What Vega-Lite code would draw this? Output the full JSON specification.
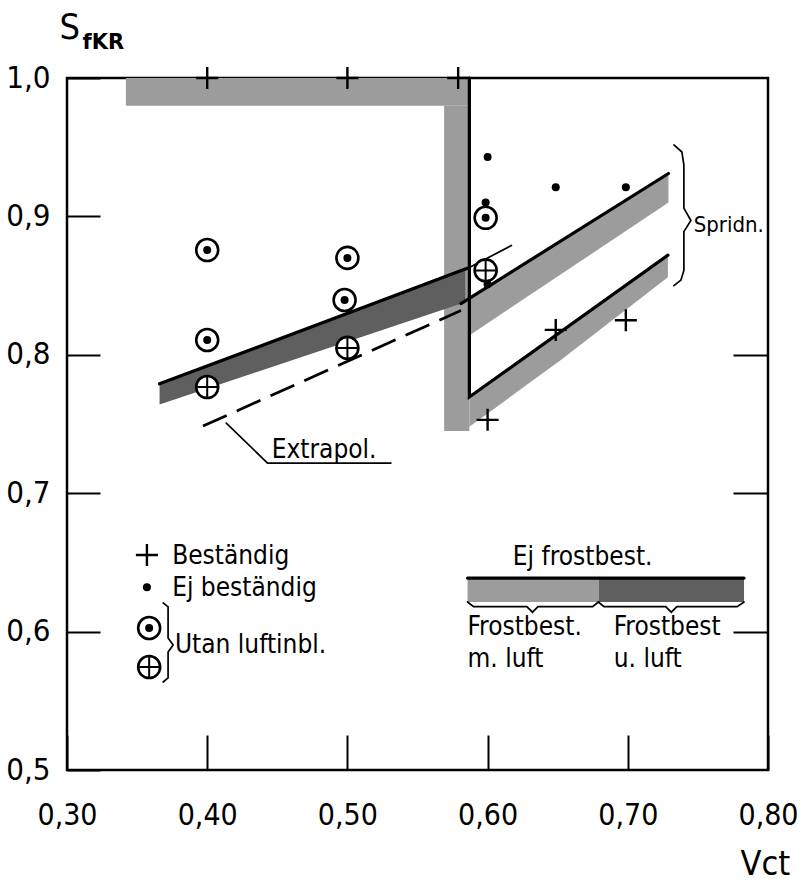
{
  "$schema": "https://vega.github.io/schema/vega-lite/v6.json",
  "width": 701,
  "height": 692,
  "autosize": {"type": "none"},
  "padding": {"left": 67, "top": 78, "right": 38, "bottom": 113},
  "background": "white",
  "config": {
    "view": {"stroke": "black", "strokeWidth": 2.5},
    "axis": {"grid": false, "domain": false, "labelFlush": false, "labelOverlap": false}
  },
  "datasets": {
    "blocks": [
      {"fill": "hatch", "vct": 0.342, "vct2": 0.587, "s": 0.98, "s2": 1.0},
      {"fill": "hatch", "vct": 0.569, "vct2": 0.587, "s": 0.745, "s2": 0.98},
      {"fill": "hatch", "vct": 0.5857, "vct2": 0.6793, "s": 0.6214, "s2": 0.6387},
      {"fill": "cross", "vct": 0.6793, "vct2": 0.7829, "s": 0.6214, "s2": 0.6387}
    ],
    "bands": [
      {"band": "upper", "fill": "hatch", "vct": 0.584, "s": 0.839, "s2": 0.812},
      {"band": "upper", "fill": "hatch", "vct": 0.729, "s": 0.931, "s2": 0.91},
      {"band": "lower", "fill": "hatch", "vct": 0.587, "s": 0.7695, "s2": 0.748},
      {"band": "lower", "fill": "hatch", "vct": 0.652, "s": 0.817, "s2": 0.796},
      {"band": "lower", "fill": "hatch", "vct": 0.7286, "s": 0.872, "s2": 0.856},
      {"band": "cross", "fill": "cross", "vct": 0.366, "s": 0.779, "s2": 0.764},
      {"band": "cross", "fill": "cross", "vct": 0.584, "s": 0.863, "s2": 0.838}
    ],
    "lines": [
      {"id": "cross_top", "ord": 1, "vct": 0.366, "s": 0.779},
      {"id": "cross_top", "ord": 2, "vct": 0.587, "s": 0.863},
      {"id": "cross_ext", "ord": 1, "vct": 0.587, "s": 0.863},
      {"id": "cross_ext", "ord": 2, "vct": 0.617, "s": 0.879},
      {"id": "vert", "ord": 1, "vct": 0.587, "s": 1.0},
      {"id": "vert", "ord": 2, "vct": 0.587, "s": 0.7695},
      {"id": "vert", "ord": 3, "vct": 0.7286, "s": 0.872},
      {"id": "upper", "ord": 1, "vct": 0.581, "s": 0.837},
      {"id": "upper", "ord": 2, "vct": 0.729, "s": 0.931},
      {"id": "extrap", "ord": 1, "vct": 0.397, "s": 0.7485},
      {"id": "extrap", "ord": 2, "vct": 0.581, "s": 0.832},
      {"id": "leader", "ord": 1, "vct": 0.4136, "s": 0.7507},
      {"id": "leader", "ord": 2, "vct": 0.443, "s": 0.7218},
      {"id": "leader", "ord": 3, "vct": 0.531, "s": 0.7218},
      {"id": "legend_ej", "ord": 1, "vct": 0.5857, "s": 0.6387},
      {"id": "legend_ej", "ord": 2, "vct": 0.7829, "s": 0.6387},
      {"id": "brace_spridn", "ord": 1, "vct": 0.7329, "s": 0.9516},
      {"id": "brace_spridn", "ord": 2, "vct": 0.7386, "s": 0.9465},
      {"id": "brace_spridn", "ord": 3, "vct": 0.74, "s": 0.9371},
      {"id": "brace_spridn", "ord": 4, "vct": 0.74, "s": 0.906},
      {"id": "brace_spridn", "ord": 5, "vct": 0.745, "s": 0.897},
      {"id": "brace_spridn", "ord": 6, "vct": 0.74, "s": 0.889},
      {"id": "brace_spridn", "ord": 7, "vct": 0.74, "s": 0.861},
      {"id": "brace_spridn", "ord": 8, "vct": 0.7379, "s": 0.854},
      {"id": "brace_spridn", "ord": 9, "vct": 0.7329, "s": 0.85},
      {"id": "brace_utan", "ord": 1, "vct": 0.3686, "s": 0.6207},
      {"id": "brace_utan", "ord": 2, "vct": 0.3721, "s": 0.6178},
      {"id": "brace_utan", "ord": 3, "vct": 0.3721, "s": 0.5954},
      {"id": "brace_utan", "ord": 4, "vct": 0.3757, "s": 0.5903},
      {"id": "brace_utan", "ord": 5, "vct": 0.3721, "s": 0.5853},
      {"id": "brace_utan", "ord": 6, "vct": 0.3721, "s": 0.5665},
      {"id": "brace_utan", "ord": 7, "vct": 0.3686, "s": 0.5636},
      {"id": "brace_m", "ord": 1, "vct": 0.5857, "s": 0.6214},
      {"id": "brace_m", "ord": 2, "vct": 0.59, "s": 0.618},
      {"id": "brace_m", "ord": 3, "vct": 0.628, "s": 0.618},
      {"id": "brace_m", "ord": 4, "vct": 0.632, "s": 0.614},
      {"id": "brace_m", "ord": 5, "vct": 0.636, "s": 0.618},
      {"id": "brace_m", "ord": 6, "vct": 0.675, "s": 0.618},
      {"id": "brace_m", "ord": 7, "vct": 0.679, "s": 0.6214},
      {"id": "brace_u", "ord": 1, "vct": 0.679, "s": 0.6214},
      {"id": "brace_u", "ord": 2, "vct": 0.683, "s": 0.618},
      {"id": "brace_u", "ord": 3, "vct": 0.727, "s": 0.618},
      {"id": "brace_u", "ord": 4, "vct": 0.731, "s": 0.614},
      {"id": "brace_u", "ord": 5, "vct": 0.735, "s": 0.618},
      {"id": "brace_u", "ord": 6, "vct": 0.778, "s": 0.618},
      {"id": "brace_u", "ord": 7, "vct": 0.7829, "s": 0.6214}
    ],
    "points": [
      {"kind": "plus", "vct": 0.40, "s": 1.0},
      {"kind": "plus", "vct": 0.50, "s": 1.0},
      {"kind": "plus", "vct": 0.579, "s": 1.0},
      {"kind": "plus", "vct": 0.60, "s": 0.753},
      {"kind": "plus", "vct": 0.6486, "s": 0.818},
      {"kind": "plus", "vct": 0.6986, "s": 0.825},
      {"kind": "dot", "vct": 0.60, "s": 0.943},
      {"kind": "dot", "vct": 0.6486, "s": 0.921},
      {"kind": "dot", "vct": 0.6986, "s": 0.921},
      {"kind": "dot", "vct": 0.5986, "s": 0.91},
      {"kind": "dot", "vct": 0.60, "s": 0.851},
      {"kind": "ringdot", "vct": 0.40, "s": 0.8757},
      {"kind": "ringdot", "vct": 0.50, "s": 0.870},
      {"kind": "ringdot", "vct": 0.498, "s": 0.8396},
      {"kind": "ringdot", "vct": 0.40, "s": 0.8107},
      {"kind": "ringdot", "vct": 0.5986, "s": 0.899},
      {"kind": "ringplus", "vct": 0.40, "s": 0.7767},
      {"kind": "ringplus", "vct": 0.50, "s": 0.805},
      {"kind": "ringplus", "vct": 0.5986, "s": 0.861},
      {"kind": "plus", "vct": 0.357, "s": 0.6553},
      {"kind": "dot", "vct": 0.357, "s": 0.632},
      {"kind": "ringdot", "vct": 0.3586, "s": 0.6026},
      {"kind": "ringplus", "vct": 0.3586, "s": 0.5744}
    ],
    "texts": [
      {"style": "big", "vct": 0.446, "s": 0.7254, "text": "Extrapol."},
      {"style": "small", "vct": 0.747, "s": 0.889, "text": "Spridn."},
      {"style": "big", "vct": 0.375, "s": 0.6485, "text": "Beständig"},
      {"style": "big", "vct": 0.375, "s": 0.6255, "text": "Ej beständig"},
      {"style": "big", "vct": 0.377, "s": 0.5845, "text": "Utan luftinbl."},
      {"style": "big", "vct": 0.618, "s": 0.648, "text": "Ej frostbest."},
      {"style": "big", "vct": 0.5857, "s": 0.5975, "text": "Frostbest."},
      {"style": "big", "vct": 0.5857, "s": 0.5744, "text": "m. luft"},
      {"style": "big", "vct": 0.69, "s": 0.5975, "text": "Frostbest"},
      {"style": "big", "vct": 0.69, "s": 0.5744, "text": "u. luft"}
    ]
  },
  "resolve": {"axis": {"y": "independent"}},
  "layer": [
    {
      "data": {"name": "blocks"},
      "mark": {"type": "rect"},
      "encoding": {
        "x": {"field": "vct", "type": "quantitative", "scale": {"domain": [0.3, 0.8], "nice": false, "zero": false},
          "axis": {"values": [0.3, 0.4, 0.5, 0.6, 0.7, 0.8], "tickSize": -35, "tickWidth": 2, "tickColor": "black",
            "labelPadding": 65, "labelBaseline": "top", "labelFont": "DejaVu Sans Condensed, sans-serif",
            "labelFontSize": 30, "labelColor": "black", "labelExpr": "replace(format(datum.value,'.2f'),'.',',')",
            "title": "Vct", "titleX": 673, "titleY": 104, "titleAlign": "left", "titleBaseline": "alphabetic",
            "titleFont": "DejaVu Sans Condensed, sans-serif", "titleFontSize": 34, "titleFontWeight": "normal", "titleColor": "black"}},
        "x2": {"field": "vct2"},
        "y": {"field": "s", "type": "quantitative", "scale": {"domain": [0.5, 1.0], "nice": false, "zero": false},
          "axis": {"orient": "left", "values": [0.5, 0.6, 0.7, 0.8, 0.9, 1.0], "tickSize": -33, "tickWidth": 2, "tickColor": "black",
            "labelPadding": 50, "labelAlign": "right", "labelBaseline": "middle",
            "labelFont": "DejaVu Sans Condensed, sans-serif", "labelFontSize": 31, "labelColor": "black",
            "labelExpr": "replace(format(datum.value,'.1f'),'.',',')",
            "title": "S", "titleAngle": 0, "titleAlign": "left", "titleBaseline": "alphabetic", "titleX": -8, "titleY": -40,
            "titleFont": "DejaVu Sans Condensed, sans-serif", "titleFontSize": 36, "titleFontWeight": "normal", "titleColor": "black"}},
        "y2": {"field": "s2"},
        "color": {"field": "fill", "type": "nominal", "scale": {"domain": ["hatch", "cross"], "range": ["#9c9c9c", "#5f5f5f"]}, "legend": null}
      }
    },
    {
      "data": {"name": "bands"},
      "mark": {"type": "area"},
      "encoding": {
        "x": {"field": "vct", "type": "quantitative", "scale": {"domain": [0.3, 0.8], "nice": false, "zero": false}},
        "y": {"field": "s", "type": "quantitative", "scale": {"domain": [0.5, 1.0], "nice": false, "zero": false},
          "axis": {"orient": "right", "values": [0.6, 0.7, 0.8], "tickSize": -35, "tickWidth": 2, "tickColor": "black", "labels": false,
            "title": "fKR", "titleAngle": 0, "titleAlign": "left", "titleBaseline": "alphabetic", "titleX": -686, "titleY": -30,
            "titleFont": "DejaVu Sans", "titleFontSize": 21, "titleFontWeight": "bold", "titleColor": "black"}},
        "y2": {"field": "s2"},
        "detail": {"field": "band"},
        "color": {"field": "fill", "type": "nominal", "scale": {"domain": ["hatch", "cross"], "range": ["#9c9c9c", "#5f5f5f"]}, "legend": null}
      }
    },
    {
      "data": {"name": "lines"},
      "transform": [{"filter": {"field": "id", "oneOf": ["cross_top", "vert", "upper", "legend_ej"]}}],
      "mark": {"type": "line", "color": "black", "strokeWidth": 3.2, "strokeCap": "round", "strokeJoin": "miter"},
      "encoding": {
        "x": {"field": "vct", "type": "quantitative", "scale": {"domain": [0.3, 0.8], "nice": false, "zero": false}},
        "y": {"field": "s", "type": "quantitative", "scale": {"domain": [0.5, 1.0], "nice": false, "zero": false}, "axis": null},
        "detail": {"field": "id"},
        "order": {"field": "ord"}
      }
    },
    {
      "data": {"name": "lines"},
      "transform": [{"filter": {"field": "id", "oneOf": ["cross_ext", "leader", "brace_spridn", "brace_utan", "brace_m", "brace_u"]}}],
      "mark": {"type": "line", "color": "black", "strokeWidth": 1.7, "strokeCap": "round", "interpolate": "linear"},
      "encoding": {
        "x": {"field": "vct", "type": "quantitative", "scale": {"domain": [0.3, 0.8], "nice": false, "zero": false}},
        "y": {"field": "s", "type": "quantitative", "scale": {"domain": [0.5, 1.0], "nice": false, "zero": false}, "axis": null},
        "detail": {"field": "id"},
        "order": {"field": "ord"}
      }
    },
    {
      "data": {"name": "lines"},
      "transform": [{"filter": {"field": "id", "equal": "extrap"}}],
      "mark": {"type": "line", "color": "black", "strokeWidth": 2.8, "strokeDash": [26, 11]},
      "encoding": {
        "x": {"field": "vct", "type": "quantitative", "scale": {"domain": [0.3, 0.8], "nice": false, "zero": false}},
        "y": {"field": "s", "type": "quantitative", "scale": {"domain": [0.5, 1.0], "nice": false, "zero": false}, "axis": null},
        "order": {"field": "ord"}
      }
    },
    {
      "data": {"name": "points"},
      "transform": [{"filter": {"field": "kind", "oneOf": ["ringdot", "ringplus"]}}],
      "mark": {"type": "point", "shape": "circle", "filled": false, "stroke": "black", "strokeWidth": 2.6, "size": 484, "opacity": 1, "fill": "white", "fillOpacity": 1},
      "encoding": {
        "x": {"field": "vct", "type": "quantitative", "scale": {"domain": [0.3, 0.8], "nice": false, "zero": false}},
        "y": {"field": "s", "type": "quantitative", "scale": {"domain": [0.5, 1.0], "nice": false, "zero": false}, "axis": null}
      }
    },
    {
      "data": {"name": "points"},
      "transform": [{"filter": {"field": "kind", "oneOf": ["ringdot", "dot"]}}],
      "mark": {"type": "point", "shape": "circle", "filled": true, "color": "black", "size": 64, "opacity": 1},
      "encoding": {
        "x": {"field": "vct", "type": "quantitative", "scale": {"domain": [0.3, 0.8], "nice": false, "zero": false}},
        "y": {"field": "s", "type": "quantitative", "scale": {"domain": [0.5, 1.0], "nice": false, "zero": false}, "axis": null}
      }
    },
    {
      "data": {"name": "points"},
      "transform": [{"filter": {"field": "kind", "equal": "plus"}}],
      "mark": {"type": "point", "shape": "M-1,0H1M0,-1V1", "filled": false, "stroke": "black", "strokeWidth": 2.4, "size": 484, "opacity": 1},
      "encoding": {
        "x": {"field": "vct", "type": "quantitative", "scale": {"domain": [0.3, 0.8], "nice": false, "zero": false}},
        "y": {"field": "s", "type": "quantitative", "scale": {"domain": [0.5, 1.0], "nice": false, "zero": false}, "axis": null}
      }
    },
    {
      "data": {"name": "points"},
      "transform": [{"filter": {"field": "kind", "equal": "ringplus"}}],
      "mark": {"type": "point", "shape": "M-1,0H1M0,-1V1", "filled": false, "stroke": "black", "strokeWidth": 2, "size": 400, "opacity": 1},
      "encoding": {
        "x": {"field": "vct", "type": "quantitative", "scale": {"domain": [0.3, 0.8], "nice": false, "zero": false}},
        "y": {"field": "s", "type": "quantitative", "scale": {"domain": [0.5, 1.0], "nice": false, "zero": false}, "axis": null}
      }
    },
    {
      "data": {"name": "texts"},
      "transform": [{"filter": {"field": "style", "equal": "big"}}],
      "mark": {"type": "text", "align": "left", "baseline": "alphabetic", "font": "DejaVu Sans Condensed, DejaVu Sans", "fontSize": 26, "color": "black"},
      "encoding": {
        "x": {"field": "vct", "type": "quantitative", "scale": {"domain": [0.3, 0.8], "nice": false, "zero": false}},
        "y": {"field": "s", "type": "quantitative", "scale": {"domain": [0.5, 1.0], "nice": false, "zero": false}, "axis": null},
        "text": {"field": "text"}
      }
    },
    {
      "data": {"name": "texts"},
      "transform": [{"filter": {"field": "style", "equal": "small"}}],
      "mark": {"type": "text", "align": "left", "baseline": "alphabetic", "font": "DejaVu Sans Condensed, DejaVu Sans", "fontSize": 22, "color": "black"},
      "encoding": {
        "x": {"field": "vct", "type": "quantitative", "scale": {"domain": [0.3, 0.8], "nice": false, "zero": false}},
        "y": {"field": "s", "type": "quantitative", "scale": {"domain": [0.5, 1.0], "nice": false, "zero": false}, "axis": null},
        "text": {"field": "text"}
      }
    }
  ]
}
